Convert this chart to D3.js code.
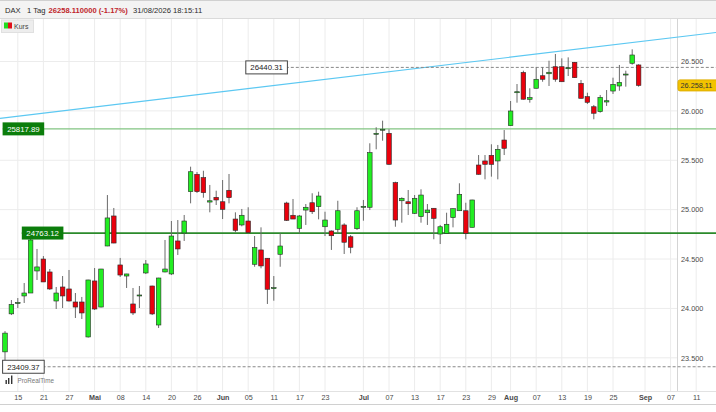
<!DOCTYPE html>
<html>
<head>
<meta charset="utf-8">
<script src="https://cdn.jsdelivr.net/npm/d3@7"></script>
<style>
  body { margin: 0; background: #fff; }
  svg { display: block; font-family: "Liberation Sans", Arial, sans-serif; }
</style>
</head>
<body>
<div id="chart"></div>
<script>
// Kerzen (Tageskerzen DAX, 13.04.2026 - 31.08.2026)
const opens = [23560,23945,24050,24126,24156,24379,24500,24369,24075,24217,24197,24065,24065,23711,24278,24014,24632,24936,24440,24328,
  24045,24126,24359,24227,23832,24369,24349,24683,24764,25182,25358,25324,25077,25125,25080,25196,24905,24845,24885,24447,
  24592,24508,24204,24548,25067,24943,24811,24996,25070,25030,24827,24784,24801,24845,24726,24807,25024,25024,25763,25806,
  25773,25273,25090,25080,24963,24929,24969,25014,24753,24760,24919,24989,24989,24821,25452,25493,25550,25493,25705,25850,
  26184,26389,26117,26229,26356,26376,26447,26447,26431,26492,26279,26144,26042,25992,26090,26201,26252,26363,26482,26465];
const highs = [23770,24085,24105,24257,24763,24602,24530,24399,24217,24328,24389,24156,24116,24290,24409,24400,25148,25017,24511,24350,
  24207,24227,24490,24230,24310,24693,24885,24895,24946,25435,25381,25394,25250,25192,25300,25361,24973,25007,25024,24733,
  24821,24510,24328,24760,25080,25108,24946,25057,25166,25182,24979,24790,25090,24862,24743,25024,25098,25672,25834,25901,
  25814,25283,25125,25199,25148,25206,25057,25015,24845,24969,25010,25267,25070,25100,25553,25553,25662,25655,25806,26100,
  26272,26407,26229,26441,26441,26508,26576,26532,26542,26495,26313,26184,26060,26161,26211,26336,26465,26407,26623,26472];
const lows = [23409.37,23933,24004,24055,24156,24288,24268,24187,23994,24004,24070,23903,23893,23705,23984,24010,24630,24660,24318,24207,
  23933,24004,24348,23933,23802,24365,24338,24541,24683,25064,25169,25121,24973,25047,24905,25064,24770,24831,24760,24422,
  24406,24045,24078,24422,24885,24905,24760,24845,24956,24902,24733,24592,24760,24551,24558,24794,24888,24996,25611,25698,
  25455,24827,24868,24946,24956,24868,24845,24700,24652,24760,24821,24989,24700,24820,25355,25307,25334,25307,25553,25850,
  26083,26115,26083,26228,26295,26252,26295,26295,26353,26335,26125,26070,25915,25982,26050,26171,26204,26245,26468,26245];
const closes = [23750,24040,24060,24156,24693,24420,24268,24197,24156,24126,24075,24014,23954,24288,23994,24399,24916,24662,24338,24349,
  23954,24136,24450,23944,24308,24399,24733,24602,24885,25384,25182,25172,25090,25098,25003,25121,24791,24943,24767,24615,
  24430,24194,24210,24632,24892,24905,24936,25024,24979,25138,24895,24736,24989,24670,24619,24989,25034,25577,25773,25814,
  25459,24895,25115,25060,25115,25148,24996,24912,24827,24852,25010,25155,24760,25098,25358,25459,25459,25611,25621,25999,
  26194,26118,26135,26320,26320,26391,26320,26295,26437,26336,26127,26087,25976,26137,26103,26269,26289,26373,26566,26258.11];

const firstDay = "2026-04-13";
const lastAxisDay = "2026-09-11";
const holidays = ["2026-05-01"];

// Achsenbeschriftung
const tickDates = ["2026-04-15","2026-04-21","2026-04-27","2026-05-04","2026-05-08","2026-05-14","2026-05-20","2026-05-26",
  "2026-06-01","2026-06-05","2026-06-11","2026-06-17","2026-06-23","2026-07-01","2026-07-07","2026-07-13","2026-07-17",
  "2026-07-23","2026-07-29","2026-08-03","2026-08-07","2026-08-13","2026-08-19","2026-08-25","2026-09-01","2026-09-07","2026-09-11"];
const tickLabels = ["15","21","27","Mai","08","14","20","26","Jun","05","11","17","23","Jul","07","13","17",
  "23","29","Aug","07","13","19","25","Sep","07","11"];
const monthLabels = ["Mai","Jun","Jul","Aug","Sep"];
const yTicks = [23500, 24000, 24500, 25000, 25500, 26000, 26500];

// Linien im Chart
const levelValues = [25817.89, 24763.12, 26440.31, 23409.37];
const levelStarts = ["2026-04-13", "2026-04-16", "2026-06-05", "2026-04-13"];
const trendDates = ["2026-04-13", "2026-08-31"];
const trendValues = [25930, 26700];

const W = 716, H = 412;
const plotRight = 677, plotTop = 19, plotBottom = 391;

const parse = d3.timeParse("%Y-%m-%d");
const fmt = d3.timeFormat("%Y-%m-%d");
const days = d3.timeDay.range(parse(firstDay), d3.timeDay.offset(parse(lastAxisDay), 1))
  .filter(d => d.getDay() !== 0 && d.getDay() !== 6 && !holidays.includes(fmt(d)))
  .map(fmt);
const idx = s => days.indexOf(s);

const de = d3.formatLocale({ decimal: ",", thousands: ".", grouping: [3], currency: ["", "€"] });

const x = d3.scaleLinear().domain([0, closes.length - 1]).range([5, 638.6]);
const y = d3.scaleLinear().domain([23500, 26500]).range([357.8, 61.5]);

const svg = d3.select('#chart').append('svg').attr('width', W).attr('height', H);
svg.append('rect').attr('width', W).attr('height', H).attr('fill', '#fff');

// Gitter
const tickIdx = tickDates.map(idx);
svg.append('g').selectAll('line').data(tickIdx).join('line')
  .attr('x1', d => x(d)).attr('x2', d => x(d))
  .attr('y1', plotTop).attr('y2', plotBottom)
  .attr('stroke', '#ececec').attr('stroke-width', 1);
svg.append('g').selectAll('line').data(yTicks).join('line')
  .attr('x1', 0).attr('x2', plotRight)
  .attr('y1', d => y(d)).attr('y2', d => y(d))
  .attr('stroke', '#ececec').attr('stroke-width', 1);

svg.append('line').attr('x1', plotRight + 0.5).attr('x2', plotRight + 0.5)
  .attr('y1', plotTop).attr('y2', plotBottom).attr('stroke', '#d4d4d4');
svg.append('line').attr('x1', 0).attr('x2', W).attr('y1', plotBottom + 0.5).attr('y2', plotBottom + 0.5)
  .attr('stroke', '#e2e2e2');
svg.append('line').attr('x1', 0).attr('x2', W).attr('y1', 404.5).attr('y2', 404.5)
  .attr('stroke', '#d0d0d0');

// Kopfzeile
svg.append('rect').attr('x', 0).attr('y', 0).attr('width', W).attr('height', 18.5)
  .attr('fill', '#f3f3f3');
svg.append('line').attr('x1', 0).attr('x2', W).attr('y1', 0.5).attr('y2', 0.5).attr('stroke', '#d0d0d0');
svg.append('line').attr('x1', 0).attr('x2', W).attr('y1', 18.5).attr('y2', 18.5).attr('stroke', '#dadada');
const head = svg.append('g').attr('font-size', 7.6);
head.append('text').attr('x', 5).attr('y', 12.8).attr('fill', '#2a2a2a').text('DAX');
head.append('text').attr('x', 27).attr('y', 12.8).attr('fill', '#2a2a2a').text('1 Tag');
head.append('text').attr('x', 48.5).attr('y', 12.8).attr('fill', '#c0262c').attr('font-weight', 'bold')
  .text('26258.110000 (-1.17%)');
head.append('text').attr('x', 133).attr('y', 12.8).attr('fill', '#2a2a2a').text('31/08/2026 18:15:11');

// Legende
svg.append('rect').attr('x', 1.5).attr('y', 20).attr('width', 32).attr('height', 12.5)
  .attr('fill', '#ededed').attr('stroke', '#e0e0e0');
svg.append('rect').attr('x', 4).attr('y', 22.5).attr('width', 4).attr('height', 6).attr('fill', '#1fdc1f');
svg.append('rect').attr('x', 8).attr('y', 22.5).attr('width', 4).attr('height', 6).attr('fill', '#e0101a');
svg.append('text').attr('x', 14).attr('y', 29).attr('font-size', 7).attr('fill', '#444').text('Kurs');

// Trendlinie
const tA = idx(trendDates[0]), tB = idx(trendDates[1]);
const slope = (trendValues[1] - trendValues[0]) / (tB - tA);
const trendAt = i => trendValues[0] + (i - tA) * slope;
svg.append('line')
  .attr('x1', 0).attr('y1', y(trendAt(x.invert(0))))
  .attr('x2', W).attr('y2', y(trendAt(x.invert(W))))
  .attr('stroke', '#5cc8f2').attr('stroke-width', 1.1);

// Horizontale Linien
const levelStyle = [
  { stroke: '#82c482', width: 1.3, dash: null, fill: '#0b7d0b', text: '#fff', box: 'none' },
  { stroke: '#2b8a2b', width: 1.7, dash: null, fill: '#0b7d0b', text: '#fff', box: 'none' },
  { stroke: '#888', width: 1, dash: '3,2', fill: '#fff', text: '#222', box: '#444' },
  { stroke: '#888', width: 1, dash: '3,2', fill: '#fff', text: '#222', box: '#444' }
];
levelValues.forEach((v, k) => {
  const s = levelStyle[k];
  svg.append('line')
    .attr('x1', x(idx(levelStarts[k])) - 2.4).attr('x2', W)
    .attr('y1', y(v)).attr('y2', y(v))
    .attr('stroke', s.stroke).attr('stroke-width', s.width)
    .attr('stroke-dasharray', s.dash);
});

// Kerzen
const candles = svg.append('g');
const cw = 4.6;
closes.forEach((c, i) => {
  const o = opens[i];
  const up = c >= o;
  const cx = x(i);
  candles.append('line')
    .attr('x1', cx).attr('x2', cx)
    .attr('y1', y(highs[i])).attr('y2', y(lows[i]))
    .attr('stroke', '#6a6a6a').attr('stroke-width', 1);
  const top = y(Math.max(o, c)), bot = y(Math.min(o, c));
  candles.append('rect')
    .attr('x', cx - cw / 2).attr('width', cw)
    .attr('y', top).attr('height', Math.max(bot - top, 1))
    .attr('fill', up ? '#22ee22' : '#ea000c')
    .attr('stroke', '#2a2a2a').attr('stroke-width', 0.6);
});

// Beschriftung der Linien
levelValues.forEach((v, k) => {
  const s = levelStyle[k];
  const bx = x(idx(levelStarts[k])) - 2.4;
  svg.append('rect').attr('x', bx).attr('y', y(v) - 6.5).attr('width', 41.6).attr('height', 13)
    .attr('fill', s.fill).attr('stroke', s.box).attr('stroke-width', 1);
  svg.append('text').attr('x', bx + 20.8).attr('y', y(v) + 2.8)
    .attr('text-anchor', 'middle').attr('font-size', 7.8).attr('fill', s.text)
    .text(d3.format('.2f')(v));
});

// Y-Achse
const yAxis = svg.append('g').attr('transform', `translate(${plotRight},0)`)
  .call(d3.axisRight(y).tickValues(yTicks).tickSize(0).tickPadding(4).tickFormat(de.format(',.0f')));
yAxis.select('.domain').remove();
yAxis.selectAll('text').attr('font-size', 7.3).attr('fill', '#4a4a4a').attr('font-family', null);

// aktueller Kurs
const last = closes[closes.length - 1];
svg.append('rect').attr('x', 678).attr('y', y(last) - 5.5).attr('width', 42).attr('height', 11).attr('rx', 2)
  .attr('fill', '#f3c300').attr('stroke', '#e0ae00');
svg.append('text').attr('x', 680.5).attr('y', y(last) + 2.6).attr('font-size', 7.3).attr('fill', '#333')
  .text(de.format(',.2f')(last));

// X-Achse
const xAxis = svg.append('g').attr('transform', `translate(0,${plotBottom})`)
  .call(d3.axisBottom(x).tickValues(tickIdx).tickSize(0).tickPadding(4)
    .tickFormat((d, i) => tickLabels[i]));
xAxis.select('.domain').remove();
xAxis.selectAll('text').attr('font-size', 7.2).attr('fill', '#4a4a4a').attr('font-family', null)
  .attr('font-weight', (d, i) => monthLabels.includes(tickLabels[i]) ? 'bold' : null);

// Logo
const logo = svg.append('g').attr('fill', '#333');
[[5.5, 380, 4], [8, 378, 6], [11, 375.5, 8.5]].forEach(b => {
  logo.append('rect').attr('x', b[0]).attr('y', b[1]).attr('width', 1.4).attr('height', b[2]);
});
svg.append('text').attr('x', 17.5).attr('y', 383.2).attr('font-size', 6.3).attr('fill', '#777').text('ProRealTime');
</script>
</body>
</html>
